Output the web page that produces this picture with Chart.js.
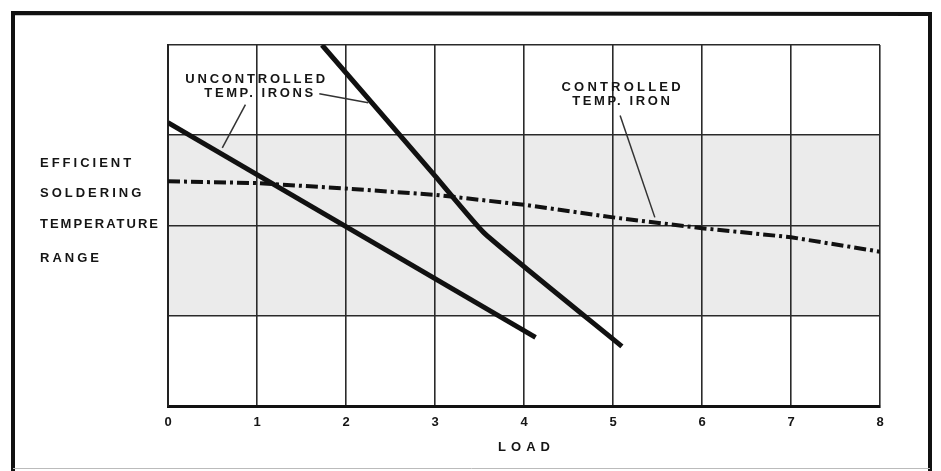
<!DOCTYPE html>
<html>
<head>
<meta charset="utf-8">
<script src="https://cdn.jsdelivr.net/npm/chart.js@4"></script>
<style>
  html, body { margin: 0; padding: 0; background: #fff; }
  canvas { display: block; }
</style>
</head>
<body>
<canvas id="chart" width="941" height="471"></canvas>
<script>
const loadTicks = [0, 1, 2, 3, 4, 5, 6, 7, 8];

// controlled temp. iron (dash-dot)
const controlledX = [0, 1, 2, 3, 4, 5, 6, 7, 8];
const controlledY = [2.49, 2.47, 2.41, 2.34, 2.23, 2.09, 1.97, 1.87, 1.71];

// uncontrolled temp. irons
const ironAX = [0, 4.13];
const ironAY = [3.14, 0.76];
const ironBX = [1.73, 3.0, 3.56, 5.10];
const ironBY = [4.0, 2.55, 1.91, 0.66];

// efficient soldering range (shaded)
const bandLow = 1;
const bandHigh = 3;

const rangeLabels = ['EFFICIENT', 'SOLDERING', 'TEMPERATURE', 'RANGE'];
const rangeLabelY = [2.69, 2.35, 2.01, 1.64];
const rangeSpacing = [3, 3, 2, 3];

const toPoints = (xs, ys) => xs.map((x, i) => ({ x: x, y: ys[i] }));

const TEXT = '#151515';
const FONT = '"Liberation Sans", Arial, sans-serif';

const bandPlugin = {
  id: 'band',
  beforeDraw(chart) {
    const { ctx, chartArea, scales } = chart;
    ctx.save();
    ctx.fillStyle = '#fff';
    ctx.fillRect(0, 0, chart.width, chart.height);
    const top = scales.y.getPixelForValue(bandHigh);
    const bottom = scales.y.getPixelForValue(bandLow);
    ctx.fillStyle = '#ebebeb';
    ctx.fillRect(chartArea.left, top, chartArea.right - chartArea.left, bottom - top);
    ctx.restore();
  }
};

function spacedText(ctx, text, x, y, spacing, align) {
  ctx.letterSpacing = spacing + 'px';
  const w = ctx.measureText(text).width - spacing;
  let sx = x;
  if (align === 'center') sx = x - w / 2;
  ctx.textAlign = 'left';
  ctx.fillText(text, sx, y);
  ctx.letterSpacing = '0px';
}

const notesPlugin = {
  id: 'notes',
  afterDraw(chart) {
    const { ctx, chartArea, scales } = chart;
    const px = v => scales.x.getPixelForValue(v);
    const py = v => scales.y.getPixelForValue(v);
    ctx.save();
    ctx.fillStyle = TEXT;
    ctx.textBaseline = 'middle';
    ctx.font = 'bold 13px ' + FONT;

    rangeLabels.forEach((t, i) => spacedText(ctx, t, 40, py(rangeLabelY[i]), rangeSpacing[i], 'left'));

    ctx.font = 'bold 13px ' + FONT;
    spacedText(ctx, 'UNCONTROLLED', px(0.98), py(3.62), 2.8, 'center');
    spacedText(ctx, 'TEMP. IRONS', px(1.02), py(3.46), 2.6, 'center');
    spacedText(ctx, 'CONTROLLED', px(5.09), py(3.53), 3.2, 'center');
    spacedText(ctx, 'TEMP. IRON', px(5.09), py(3.37), 2.6, 'center');

    ctx.font = 'bold 13px ' + FONT;
    spacedText(ctx, 'LOAD', (chartArea.left + chartArea.right) / 2, chartArea.bottom + 41, 5, 'center');

    // leader lines
    ctx.strokeStyle = '#333';
    ctx.lineWidth = 1.5;
    const leaders = [
      [1.70, 3.46, 2.25, 3.36],
      [0.87, 3.34, 0.61, 2.86],
      [5.08, 3.22, 5.47, 2.09]
    ];
    leaders.forEach(l => {
      ctx.beginPath();
      ctx.moveTo(px(l[0]), py(l[1]));
      ctx.lineTo(px(l[2]), py(l[3]));
      ctx.stroke();
    });

    // outer frame
    ctx.strokeStyle = '#111';
    ctx.lineWidth = 4;
    ctx.beginPath();
    ctx.moveTo(13, 471);
    ctx.lineTo(13, 13);
    ctx.lineTo(930, 14);
    ctx.lineTo(930, 471);
    ctx.stroke();
    ctx.strokeStyle = '#bbb';
    ctx.lineWidth = 1;
    ctx.beginPath();
    ctx.moveTo(13, 468.5);
    ctx.lineTo(930, 468.5);
    ctx.stroke();
    ctx.restore();
  }
};

new Chart(document.getElementById('chart'), {
  type: 'scatter',
  data: {
    datasets: [
      {
        label: 'Uncontrolled temp. iron A',
        data: toPoints(ironAX, ironAY),
        showLine: true,
        borderColor: '#111',
        borderWidth: 5,
        pointRadius: 0,
        borderCapStyle: 'butt'
      },
      {
        label: 'Uncontrolled temp. iron B',
        data: toPoints(ironBX, ironBY),
        showLine: true,
        borderColor: '#111',
        borderWidth: 5,
        pointRadius: 0,
        tension: 0.15,
        borderCapStyle: 'butt'
      },
      {
        label: 'Controlled temp. iron',
        data: toPoints(controlledX, controlledY),
        showLine: true,
        borderColor: '#111',
        borderWidth: 4,
        borderDash: [12, 4, 3, 4],
        pointRadius: 0
      }
    ]
  },
  options: {
    responsive: false,
    animation: false,
    layout: { padding: { left: 168, top: 45, right: 61, bottom: 0 } },
    plugins: {
      legend: { display: false },
      tooltip: { enabled: false }
    },
    scales: {
      x: {
        type: 'linear',
        min: 0,
        max: 8,
        afterFit(s) { s.height = 65; },
        afterBuildTicks(s) { s.ticks = loadTicks.map(v => ({ value: v })); },
        ticks: {
          padding: 9,
          color: TEXT,
          font: { family: FONT, size: 13, weight: 'bold' }
        },
        grid: { color: '#2a2a2a', lineWidth: 1.6, drawTicks: false },
        border: { color: '#111', width: 3 }
      },
      y: {
        type: 'linear',
        min: 0,
        max: 4,
        afterFit(s) { s.width = 0; },
        ticks: { display: false, stepSize: 1 },
        grid: { color: '#2a2a2a', lineWidth: 1.6, drawTicks: false },
        border: { color: '#222', width: 2 }
      }
    }
  },
  plugins: [bandPlugin, notesPlugin]
});
</script>
</body>
</html>
